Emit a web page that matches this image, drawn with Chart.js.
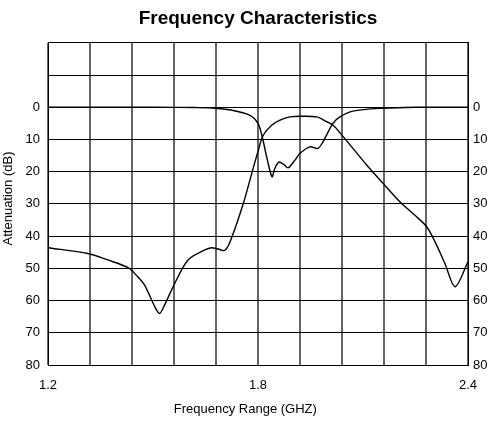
<!DOCTYPE html>
<html>
<head>
<meta charset="utf-8">
<script src="https://cdn.jsdelivr.net/npm/chart.js@4/dist/chart.umd.min.js"></script>
<style>
  html, body { margin: 0; padding: 0; background: #fff; }
  #wrap { width: 501px; height: 421px; }
</style>
</head>
<body>
<div id="wrap"><canvas id="c" width="501" height="421"></canvas></div>
<script>
// Tick definitions
const xTickValues = [1.2, 1.32, 1.44, 1.56, 1.68, 1.8, 1.92, 2.04, 2.16, 2.28, 2.4];
const xTickLabels = ['1.2', '', '', '', '', '1.8', '', '', '', '', '2.4'];
const yTickValues = [-20, -10, 0, 10, 20, 30, 40, 50, 60, 70, 80];
const yTickLabels = ['', '', '0', '10', '20', '30', '40', '50', '60', '70', '80'];

// Series 1: band-reject style response (GHz, dB)
const freq1 = [1.2, 1.45, 1.56, 1.62, 1.677, 1.729, 1.777, 1.80, 1.811, 1.826, 1.84, 1.848, 1.86, 1.874, 1.886, 1.905, 1.92, 1.949, 1.971, 1.986, 2.014, 2.034, 2.071, 2.157, 2.25, 2.4];
const att1  = [0,   0,    0.05, 0.1,  0.3,   1.0,   2.5,   5,    8.7,   16,    21.6, 19,    17,   17.8,  18.8,  16.5,  14.3, 12.3,  12.8,  10.7,  5,     3,     1.2,   0.3,   0,    0];

// Series 2: band-pass response (GHz, dB)
const freq2 = [1.2, 1.314, 1.371, 1.429, 1.452, 1.476, 1.505, 1.519, 1.533, 1.562, 1.60, 1.648, 1.667, 1.686, 1.706, 1.724, 1.758, 1.782, 1.801, 1.815, 1.839, 1.863, 1.891, 1.92, 1.968, 1.996, 2.015, 2.044, 2.111, 2.158, 2.206, 2.249, 2.282, 2.306, 2.334, 2.363, 2.4];
const att2  = [43.6, 45.4, 47.4, 49.8, 52.1, 55.2, 61.9, 64.0, 61.4, 54.7, 47.4, 44.3, 43.6, 44.0, 44.4, 40.7, 29.9, 20.6, 13.3, 8.7, 5.6, 4.0, 3.0, 2.8, 3.0, 4.5, 5.6, 9.2, 18, 23.7, 29.4, 33.6, 37.1, 41.8, 48.5, 55.7, 48];

const pts = (xs, ys) => xs.map((x, i) => ({ x: x, y: ys[i] }));

const FONT = "'Liberation Sans', Arial, sans-serif";

const yAxisCommon = {
  type: 'linear',
  min: -20,
  max: 80,
  reverse: true,
  afterBuildTicks: (s) => { s.ticks = yTickValues.map(v => ({ value: v })); },
};

new Chart(document.getElementById('c'), {
  type: 'line',
  data: {
    datasets: [
      { data: pts(freq1, att1), borderColor: '#000', borderWidth: 1.4, pointRadius: 0, tension: 0.3, fill: false },
      { data: pts(freq2, att2), borderColor: '#000', borderWidth: 1.4, pointRadius: 0, tension: 0.3, fill: false }
    ]
  },
  options: {
    responsive: false,
    animation: false,
    events: [],
    layout: { padding: 0 },
    plugins: {
      legend: { display: false },
      tooltip: { enabled: false },
      title: {
        display: true,
        fullSize: false,
        text: 'Frequency Characteristics',
        color: '#000',
        font: { family: FONT, size: 19, weight: 'bold' },
        padding: { top: 7, bottom: 13 }
      }
    },
    scales: {
      x: {
        type: 'linear',
        min: 1.2,
        max: 2.4,
        afterBuildTicks: (s) => { s.ticks = xTickValues.map(v => ({ value: v })); },
        afterFit: (s) => { s.height = 56; },
        grid: { color: '#666', lineWidth: 2, drawTicks: false },
        border: { color: '#000', width: 1 },
        ticks: {
          color: '#000',
          font: { family: FONT, size: 13 },
          padding: 13,
          maxRotation: 0,
          autoSkip: false,
          callback: (v, i) => xTickLabels[i]
        },
        title: {
          display: true,
          text: 'Frequency Range (GHZ)       ',
          color: '#000',
          font: { family: FONT, size: 13 },
          padding: { top: 0, bottom: 4 }
        }
      },
      y: Object.assign({}, yAxisCommon, {
        position: 'left',
        afterFit: (s) => { s.width = 48; },
        grid: { color: '#000', lineWidth: 1, drawTicks: false },
        border: { color: '#000', width: 1 },
        ticks: {
          color: '#000',
          font: { family: FONT, size: 13 },
          padding: 8,
          autoSkip: false,
          callback: (v, i) => yTickLabels[i]
        },
        title: {
          display: true,
          text: '   Attenuation (dB)',
          color: '#000',
          font: { family: FONT, size: 13 },
          padding: { top: 1, bottom: 0 }
        }
      }),
      y2: Object.assign({}, yAxisCommon, {
        position: 'right',
        afterFit: (s) => { s.width = 33; },
        grid: { display: false, drawTicks: false },
        border: { color: '#000', width: 1 },
        ticks: {
          color: '#000',
          font: { family: FONT, size: 13 },
          padding: 5,
          autoSkip: false,
          callback: (v, i) => yTickLabels[i]
        }
      })
    }
  }
});
</script>
</body>
</html>
